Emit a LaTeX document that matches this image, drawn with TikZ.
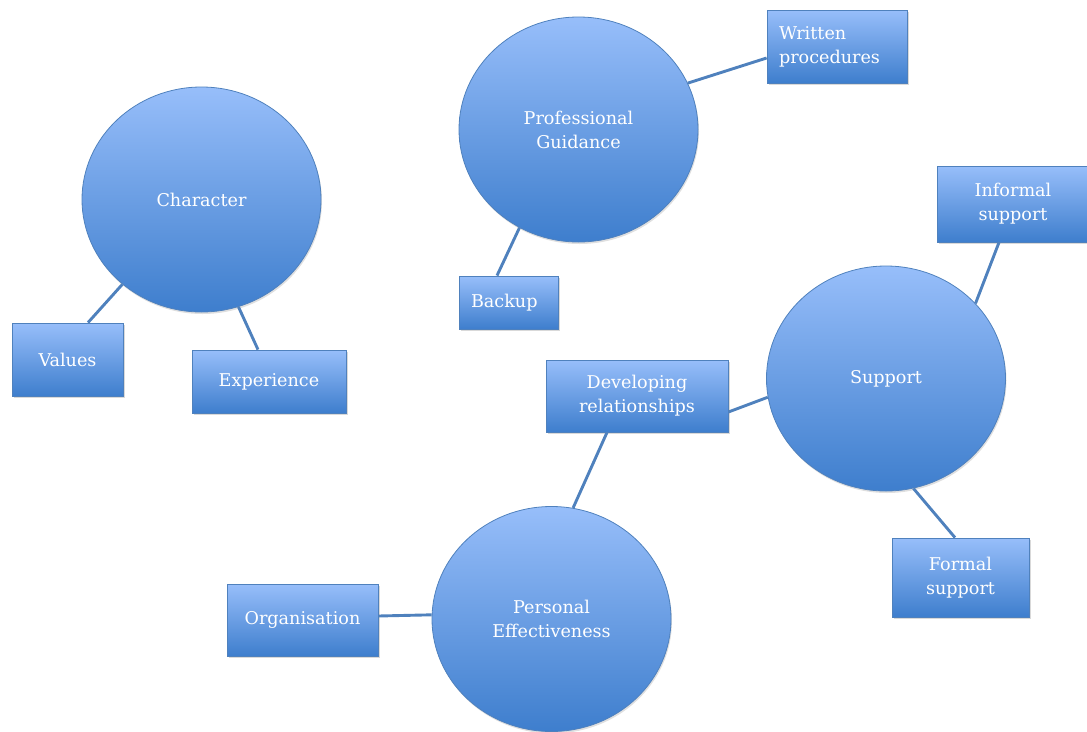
\documentclass[tikz,border=0pt]{standalone}
\usepackage{fontspec}
\setmainfont{DejaVu Serif}
\usetikzlibrary{shapes.geometric,shadows}
\definecolor{shadetop}{RGB}{151,190,250}
\definecolor{shadebot}{RGB}{62,126,205}
\definecolor{edgeblue}{RGB}{79,129,189}

\begin{document}
\begin{tikzpicture}[x=1pt,y=-1pt,inner sep=0pt]
\tikzstyle{topic}=[ellipse, minimum width=239pt, minimum height=225pt, draw=edgeblue, line width=0.8pt, top color=shadetop, bottom color=shadebot, text=white, align=center, font=\fontsize{17.6}{24}\selectfont, drop shadow={shadow xshift=1pt, shadow yshift=-2pt, opacity=0.25}]
\tikzstyle{leaf}=[rectangle, draw=edgeblue, line width=0.8pt, top color=shadetop, bottom color=shadebot, text=white, align=center, font=\fontsize{17.6}{24}\selectfont, drop shadow={shadow xshift=1.5pt, shadow yshift=-2pt, opacity=0.3}]
\tikzstyle{link}=[draw=edgeblue, line width=2.9pt]
\useasboundingbox (0,0) rectangle (1087,731);
% main topics
\node[topic] (char) at (201.5,199.5) {Character};
\node[topic] (guide) at (578.5,129.5) {Professional\\Guidance};
\node[topic] (supp) at (886,378.5) {Support};
\node[topic] (pers) at (551.5,619) {Personal\\Effectiveness};
% sub topics
\node[leaf, minimum width=111pt, minimum height=73pt] (values) at (67.5,359.5) {Values};
\node[leaf, minimum width=154pt, minimum height=63pt] (exper) at (269,381.5) {Experience};
\node[leaf, minimum width=140pt, minimum height=73pt, align=left, text width=116pt, inner xsep=12pt] (written) at (837,46.5) {Written\\procedures};
\node[leaf, minimum width=99pt, minimum height=53pt, align=left, text width=75pt, inner xsep=12pt] (backup) at (508.5,302.5) {Backup};
\node[leaf, minimum width=152pt, minimum height=76pt] (inform) at (1013,204) {Informal\\support};
\node[leaf, minimum width=182pt, minimum height=72pt] (devel) at (637,396) {Developing\\relationships};
\node[leaf, minimum width=137pt, minimum height=79pt] (formal) at (960.5,577.5) {Formal\\support};
\node[leaf, minimum width=151pt, minimum height=72pt] (organ) at (302.5,620) {Organisation};
% connectors
\path (char.227) edge[link] ([xshift=20.5pt]values.north);
\path (char.289) edge[link] ([xshift=-11pt]exper.north);
\path (guide.23) edge[link] ([yshift=-11.5pt]written.west);
\path (guide.239) edge[link] ([xshift=-11.5pt]backup.north);
\path (supp.40) edge[link] ([xshift=-14pt]inform.south);
\path (supp.189) edge[link] ([yshift=-16pt]devel.east);
\path (supp.284) edge[link] ([xshift=-5.5pt]formal.north);
\path (pers.79.5) edge[link] ([xshift=-30pt]devel.south);
\path (pers.178.5) edge[link] ([yshift=4pt]organ.east);
\end{tikzpicture}
\end{document}
